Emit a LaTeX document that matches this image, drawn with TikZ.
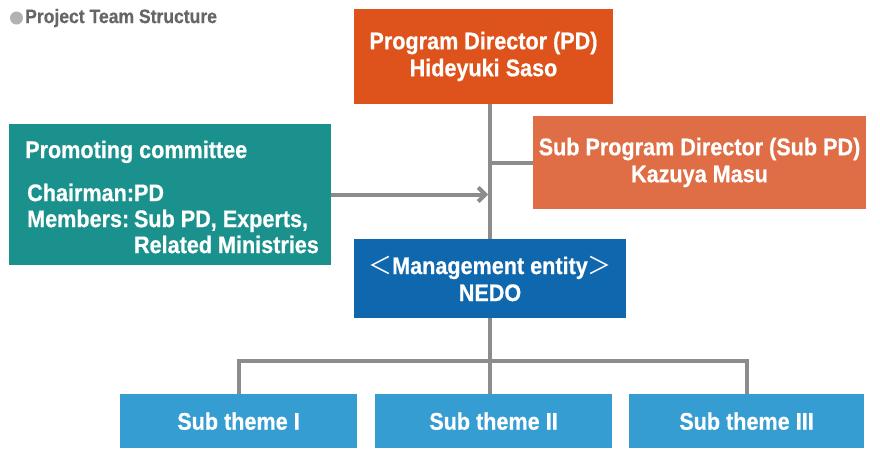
\documentclass[tikz,border=0pt]{standalone}
\usepackage{fontspec}
\setmainfont{Liberation Sans}[FakeStretch=0.9,BoldFeatures={FakeBold=0.6}]
\newfontfamily\cjk{Noto Sans CJK JP}
\usetikzlibrary{arrows.meta}
\definecolor{pdorange}{HTML}{DE531B}
\definecolor{suborange}{HTML}{DF6D45}
\definecolor{commteal}{HTML}{1A918D}
\definecolor{nedoblue}{HTML}{0F67AE}
\definecolor{themeblue}{HTML}{359DD1}
\definecolor{linegray}{HTML}{8C8C8C}
\definecolor{titlegray}{HTML}{666666}

\begin{document}
\begin{tikzpicture}[x=1pt,y=-1pt,
  box/.style={rectangle,inner sep=0pt,text=white,align=center,
    font=\bfseries\fontsize{24}{27}\selectfont},
  conn/.style={draw=linegray,line width=4pt}]
\useasboundingbox (0,0) rectangle (880,448);
% title
\fill[gray!60] (16.5,18) circle (6.5);
\node[anchor=west,inner sep=0pt,text=titlegray,font=\bfseries\fontsize{19.5}{22}\selectfont] (title) at (25,18) {Project Team Structure};
% boxes
\node[box,fill=pdorange,minimum width=259,minimum height=95] (pd) at (483.5,56.5) {Program Director (PD)\\Hideyuki Saso};
\node[box,fill=suborange,minimum width=333,minimum height=93] (subpd) at (699.5,162.5) {Sub Program Director (Sub PD)\\Kazuya Masu};
\node[box,fill=commteal,minimum width=322,minimum height=141] (comm) at (170,194.5) {};
\node[box,anchor=base west] (commtitle) at (25,158) {Promoting committee};
\node[box,anchor=north west,align=left] (commtext) at (27,182) {%
  \begin{tabular}{@{}l@{}l@{}}
  Chairman: & PD\\[-1pt]
  Members:\, & Sub PD, Experts,\\[-1pt]
   & Related Ministries
  \end{tabular}};
\node[box,fill=nedoblue,minimum width=272,minimum height=79] (mgmt) at (490,278.5) {{\cjk\mdseries ＜}Management entity{\cjk\mdseries ＞}\\NEDO};
\node[box,fill=themeblue,minimum width=237,minimum height=54,text depth=-4pt] (t1) at (238.5,421) {Sub theme I};
\node[box,fill=themeblue,minimum width=237,minimum height=54,text depth=-4pt] (t2) at (493.5,421) {Sub theme II};
\node[box,fill=themeblue,minimum width=235,minimum height=54,text depth=-4pt] (t3) at (746.5,421) {Sub theme III};
% connectors
\draw[conn] (mgmt.north |- pd.south) -- (mgmt.north);
\draw[conn] (subpd.west) -- (subpd.west -| mgmt.north);
\draw[conn,-{Straight Barb[length=7pt,width=14pt]}] (comm.east) -- ([xshift=-2pt]comm.east -| mgmt.north);
\draw[conn] (mgmt.south) -- ++(0,43) coordinate (bus);
\draw[conn] (t1.north) |- (bus) -| (t3.north);
\draw[conn] (bus) -- (bus |- t2.north);
\end{tikzpicture}
\end{document}
